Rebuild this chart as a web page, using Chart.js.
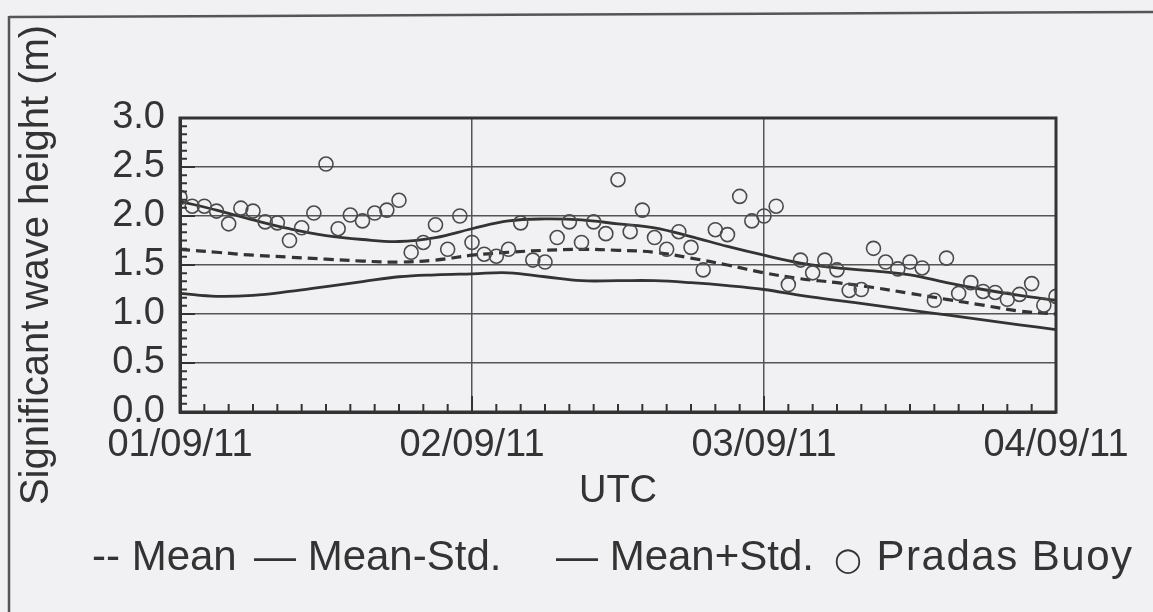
<!DOCTYPE html>
<html><head><meta charset="utf-8">
<script src="https://cdn.jsdelivr.net/npm/chart.js@4.4.0/dist/chart.umd.min.js"></script>
<style>
html,body{margin:0;padding:0;background:#f1f1f3;}
#wrap{position:relative;width:1153px;height:612px;overflow:hidden;background:#f1f1f3;}
#c{position:absolute;left:0;top:0;}
#deco{position:absolute;left:0;top:0;}
.leg{position:absolute;top:535px;font-family:"Liberation Sans",Arial,sans-serif;font-size:42px;line-height:42px;color:#333;white-space:nowrap;}
</style></head>
<body>
<div id="wrap">
<canvas id="c" width="1153" height="612"></canvas>
<svg id="deco" width="1153" height="612"><line x1="9" y1="17" x2="1153" y2="12" stroke="#555" stroke-width="2.5"/><line x1="9" y1="16" x2="9" y2="612" stroke="#555" stroke-width="2.5"/></svg>
<div class="leg" style="left:92px">-- Mean</div>
<div class="leg" style="left:254px">— Mean-Std.</div>
<div class="leg" style="left:556px">— Mean+Std.</div>
<div class="leg" style="left:834px;letter-spacing:1.5px"><span style="font-family:'DejaVu Sans';font-size:32px">○</span> Pradas Buoy</div>
</div>
<script>
// ---- data ----
const dayLabels = ['01/09/11', '02/09/11', '03/09/11', '04/09/11'];
const dayTickHours = [0, 24, 48, 72];
const modelHours = [0, 3, 6, 9, 12, 15, 18, 21, 24, 27, 30, 33, 36, 39, 42, 45, 48, 51, 54, 57, 60, 63, 66, 69, 72];
const meanValues = [1.66, 1.63, 1.60, 1.58, 1.56, 1.54, 1.53, 1.55, 1.60, 1.63, 1.65, 1.66, 1.65, 1.63, 1.57, 1.50, 1.42, 1.36, 1.32, 1.27, 1.21, 1.15, 1.09, 1.03, 1.00];
const meanMinusStd = [1.21, 1.18, 1.19, 1.23, 1.28, 1.33, 1.38, 1.40, 1.41, 1.42, 1.38, 1.34, 1.34, 1.34, 1.32, 1.29, 1.25, 1.19, 1.14, 1.09, 1.04, 0.99, 0.94, 0.89, 0.84];
const meanPlusStd = [2.15, 2.06, 1.96, 1.87, 1.80, 1.76, 1.74, 1.78, 1.87, 1.95, 1.97, 1.96, 1.92, 1.88, 1.79, 1.69, 1.60, 1.52, 1.47, 1.44, 1.40, 1.32, 1.25, 1.19, 1.14];
const buoyHours = [0,1,2,3,4,5,6,7,8,9,10,11,12,13,14,15,16,17,18,19,20,21,22,23,24,25,26,27,28,29,30,31,32,33,34,35,36,37,38,39,40,41,42,43,44,45,46,47,48,49,50,51,52,53,54,55,56,57,58,59,60,61,62,63,64,65,66,67,68,69,70,71,72];
const buoyHeight = [2.19, 2.10, 2.10, 2.05, 1.92, 2.08, 2.05, 1.94, 1.93, 1.75, 1.88, 2.03, 2.53, 1.87, 2.01, 1.95, 2.03, 2.06, 2.16, 1.63,
  1.73, 1.91, 1.66, 2.00, 1.73, 1.61, 1.59, 1.66, 1.93, 1.55, 1.53, 1.78, 1.94, 1.73, 1.94, 1.82, 2.37, 1.84, 2.06, 1.78,
  1.66, 1.84, 1.68, 1.45, 1.86, 1.81, 2.20, 1.95, 2.00, 2.10, 1.30, 1.55, 1.42, 1.55, 1.45, 1.24, 1.25, 1.67, 1.53, 1.46,
  1.53, 1.47, 1.14, 1.57, 1.21, 1.32, 1.23, 1.22, 1.15, 1.20, 1.31, 1.09, 1.18];
const yTickLabels = ['0.0', '0.5', '1.0', '1.5', '2.0', '2.5', '3.0'];

const FONT = '"Liberation Sans", Arial, sans-serif';
const INK = '#333';
const pts = (xs, ys) => xs.map((x, i) => ({x: x, y: ys[i]}));

const innerTicks = {
  id: 'innerTicks',
  afterDraw(chart) {
    const {ctx, chartArea: a, scales: {x, y}} = chart;
    ctx.save();
    ctx.strokeStyle = '#333';
    ctx.lineWidth = 2;
    ctx.beginPath();
    for (let k = 0; k <= 36; k++) {
      const v = k * 0.5 / 6;
      const py = y.getPixelForValue(v);
      const len = (k % 6 === 0) ? 15 : 7;
      ctx.moveTo(a.left, py); ctx.lineTo(a.left + len, py);
    }
    for (let h = 0; h <= 72; h += 2) {
      const px = x.getPixelForValue(h);
      const len = (h % 24 === 0) ? 16 : 8;
      ctx.moveTo(px, a.bottom); ctx.lineTo(px, a.bottom - len);
    }
    ctx.stroke();
    ctx.lineWidth = 3;
    ctx.strokeRect(a.left, a.top, a.right - a.left, a.bottom - a.top);
    ctx.restore();
  }
};

new Chart(document.getElementById('c'), {
  data: {
    datasets: [
      {type: 'scatter', label: 'Pradas Buoy', data: pts(buoyHours, buoyHeight), pointStyle: 'circle', pointRadius: 7, pointBorderWidth: 1.6, borderColor: '#4a4a4a', backgroundColor: 'rgba(0,0,0,0)', order: 0},
      {type: 'line', label: 'Mean', data: pts(modelHours, meanValues), borderColor: INK, borderWidth: 3.2, borderDash: [10, 6], pointRadius: 0, tension: 0.4, fill: false, order: 1},
      {type: 'line', label: 'Mean-Std.', data: pts(modelHours, meanMinusStd), borderColor: INK, borderWidth: 2.8, pointRadius: 0, tension: 0.4, fill: false, order: 2},
      {type: 'line', label: 'Mean+Std.', data: pts(modelHours, meanPlusStd), borderColor: INK, borderWidth: 2.8, pointRadius: 0, tension: 0.4, fill: false, order: 3}
    ]
  },
  options: {
    responsive: false, animation: false, devicePixelRatio: 1,
    layout: {padding: {left: 0, top: 118, right: 97, bottom: 92}},
    plugins: {legend: {display: false}, tooltip: {enabled: false}},
    scales: {
      x: {
        type: 'linear', min: 0, max: 72,
        afterBuildTicks: (s) => { s.ticks = dayTickHours.map(v => ({value: v})); },
        ticks: {callback: (v) => dayLabels[dayTickHours.indexOf(v)], font: {size: 38, family: FONT}, color: INK, padding: 11, maxRotation: 0, autoSkip: false},
        grid: {color: '#555', lineWidth: 1.5, drawTicks: false},
        border: {color: '#333', width: 3},
        title: {display: true, text: 'UTC', font: {size: 38, family: FONT}, color: INK, padding: {top: 0, bottom: 6}},
        afterFit: (s) => { s.height = 108; }
      },
      y: {
        min: 0, max: 3,
        ticks: {stepSize: 0.5, callback: (v) => yTickLabels[Math.round(v * 2)], font: {size: 38, family: FONT}, color: INK, padding: 15},
        grid: {color: '#555', lineWidth: 1.5, drawTicks: false},
        border: {color: '#333', width: 3},
        title: {display: true, text: 'Significant wave height (m)', font: {size: 40, family: FONT}, color: INK, padding: {top: 13, bottom: 0}},
        afterFit: (s) => { s.width = 180; }
      }
    }
  },
  plugins: [innerTicks]
});
</script>
</body></html>
